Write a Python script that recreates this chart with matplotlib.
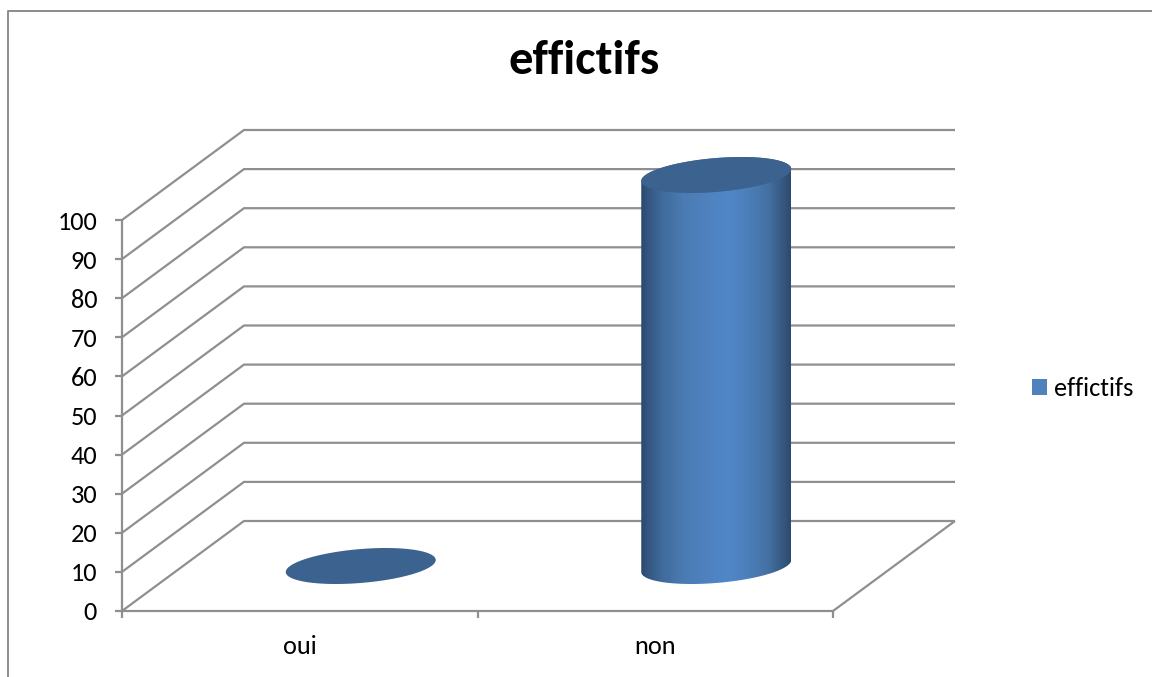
import numpy as np
import matplotlib
matplotlib.use("Agg")
import matplotlib.pyplot as plt
from matplotlib.colors import LinearSegmentedColormap
from matplotlib.lines import Line2D
from matplotlib.patches import Patch, Polygon
from matplotlib.transforms import IdentityTransform

# Chart data
categories = ["oui", "non"]
values = [0, 100]
series_name = "effictifs"
chart_title = "effictifs"
y_ticks = list(range(0, 101, 10))

W, H, DPI = 1152, 677, 100
GRID = "#8f8f8f"
FRAME = "#8c8c8c"
TOP_FACE = "#3c628f"
LEGEND_FACE = "#4f81bd"
DEPTH = np.array([122.0, 90.0])  # oblique offset of the back wall, in pixels
RX, RY, SKEW = 75.0, 18.0, 6.0   # cylinder end-cap ellipse, in pixels

plt.rcParams["font.family"] = ["Carlito", "Lato", "DejaVu Sans"]
side_cmap = LinearSegmentedColormap.from_list(
    "cylinder",
    [(0.00, "#2d4a70"), (0.06, "#365983"), (0.14, "#406b9c"), (0.28, "#4a7bb3"),
     (0.45, "#4f82bf"), (0.58, "#5187c8"), (0.72, "#4b7fba"), (0.85, "#4471a2"),
     (0.94, "#375a84"), (1.00, "#2e4b6f")],
)

fig = plt.figure(figsize=(W / DPI, H / DPI), dpi=DPI, facecolor="white")
ax = fig.add_axes([122 / W, (H - 611) / H, 711 / W, 391 / H])
ax.set_xlim(0, len(categories))
ax.set_ylim(0, 100)
ax.patch.set_visible(False)
for spine in ax.spines.values():
    spine.set_visible(False)


def project(cat, val, depth=0.0):
    """Display position of a point on the oblique chart box."""
    px = ax.transData.transform((cat, val))
    return px + DEPTH * depth


def pline(points, color=GRID, lw=1.6, z=1):
    arr = np.array(points)
    ax.add_line(Line2D(arr[:, 0], arr[:, 1], color=color, lw=lw, transform=IdentityTransform(),
                       clip_on=False, zorder=z, solid_joinstyle="miter", solid_capstyle="butt"))


# Chart frame: only the top and left edges fall inside the canvas
pix = IdentityTransform()
fig.add_artist(Line2D([8, 8, W], [0, H - 10.5, H - 10.5], color=FRAME, lw=1.4, transform=pix))

# Walls and floor
n = len(categories)
for v in y_ticks:
    pline([project(0, v), project(0, v, 1), project(n, v, 1)])
pline([project(n, 0), project(n, 0, 1)])
pline([project(0, 0), project(n, 0)])
pline([project(0, 0), project(0, 100)])

# Tick marks
for v in y_ticks:
    p = project(0, v)
    pline([p + (-7, 0), p])
for c in range(n + 1):
    p = project(c, 0)
    pline([p, p + (0, -7)])

ax.set_xticks([i + 0.5 for i in range(n)], categories)
ax.set_yticks(y_ticks, [str(v) for v in y_ticks])
ax.tick_params(axis="both", length=0, labelsize=19, labelcolor="black")
ax.tick_params(axis="x", pad=17)
ax.tick_params(axis="y", pad=18)

# Cylinders sit half way into the depth of the box
t = np.linspace(0, 2 * np.pi, 241)
for i, val in enumerate(values):
    base = project(i + 0.5, 0, 0.5)
    top = project(i + 0.5, val, 0.5)
    ex = RX * np.cos(t)
    ey = SKEW * np.cos(t) + np.sqrt(RY ** 2 - SKEW ** 2) * np.sin(t)
    if val > 0:
        lower = np.linspace(np.pi, 2 * np.pi, 121)
        upper = np.linspace(0, np.pi, 121)
        lx = RX * np.cos(lower)
        ly = SKEW * np.cos(lower) + np.sqrt(RY ** 2 - SKEW ** 2) * np.sin(lower)
        ux = RX * np.cos(upper)
        uy = SKEW * np.cos(upper) + np.sqrt(RY ** 2 - SKEW ** 2) * np.sin(upper)
        outline = np.vstack([np.column_stack([base[0] + lx, base[1] + ly]),
                             np.column_stack([top[0] + ux, top[1] + uy])])
        clip = Polygon(outline, closed=True, transform=pix, facecolor="none", edgecolor="none",
                       clip_on=False)
        ax.add_patch(clip)
        img = ax.imshow(np.linspace(0, 1, 300)[None, :], cmap=side_cmap, aspect="auto",
                        interpolation="bilinear", zorder=3)
        img.set_transform(pix)
        img.set_extent((base[0] - RX, base[0] + RX, base[1] - RY - 2, top[1] + RY + 2))
        img.set_clip_box(fig.bbox)
        img.set_clip_path(clip)
    ax.add_patch(Polygon(np.column_stack([top[0] + ex, top[1] + ey]), closed=True, transform=pix,
                         facecolor=TOP_FACE, edgecolor="none", zorder=4, clip_on=False))

ax.set_xlim(0, n)
ax.set_ylim(0, 100)

fig.text(584 / W, 1 - 61.5 / H, chart_title, ha="center", va="center", fontsize=35,
         fontweight="bold", color="black")

fig.legend(handles=[Patch(facecolor=LEGEND_FACE, edgecolor="none", label=series_name)],
           loc="center left", bbox_to_anchor=(1032 / W, 1 - 389 / H), frameon=False,
           fontsize=19, handlelength=0.57, handleheight=0.57, handletextpad=0.27,
           borderpad=0, borderaxespad=0)

fig.savefig("out.png", dpi=DPI, facecolor="white")
